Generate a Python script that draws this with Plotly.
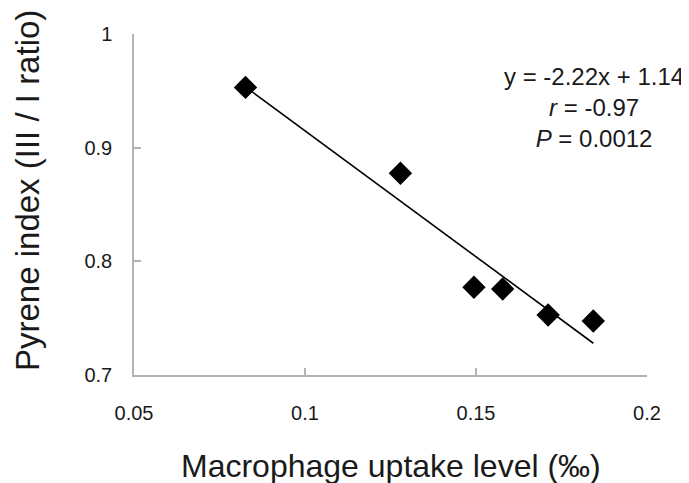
import numpy as np
import plotly.graph_objects as go

# Data
uptake = [0.0826, 0.1279, 0.1494, 0.1578, 0.1711, 0.1843]
pyrene_index = [0.953, 0.8775, 0.7772, 0.7757, 0.7528, 0.7475]

x_ticks = [0.05, 0.1, 0.15, 0.2]
x_tick_labels = ["0.05", "0.1", "0.15", "0.2"]
y_ticks = [0.7, 0.8, 0.9, 1.0]
y_tick_labels = ["0.7", "0.8", "0.9", "1"]

eq_text = "y = -2.22x + 1.14<br><i>r</i> = -0.97<br><i>P</i> = 0.0012"

# Linear fit
slope, intercept = np.polyfit(uptake, pyrene_index, 1)
fit_x = [min(uptake), max(uptake)]
fit_y = [slope * v + intercept for v in fit_x]

FONT = "Arial, Liberation Sans, sans-serif"
AXIS_COLOR = "#b4b4b4"
TEXT_COLOR = "#1a1a1a"

fig = go.Figure()
fig.add_trace(go.Scatter(x=fit_x, y=fit_y, mode="lines",
                         line=dict(color="black", width=1.6),
                         showlegend=False, hoverinfo="skip"))
fig.add_trace(go.Scatter(x=uptake, y=pyrene_index, mode="markers",
                         marker=dict(symbol="diamond", size=18, color="black"),
                         showlegend=False))

# The page body has an 8px default margin, so the figure is sized to fit.
fig.update_layout(
    width=681, height=475,
    margin=dict(l=126, r=42, t=26, b=108),
    paper_bgcolor="white", plot_bgcolor="white",
    font=dict(family=FONT, color=TEXT_COLOR),
    xaxis=dict(range=[0.05, 0.2], tickvals=x_ticks, ticktext=x_tick_labels,
               showgrid=False, zeroline=False, showline=True,
               linecolor=AXIS_COLOR, linewidth=1.5,
               ticks="inside", ticklen=7, tickcolor=AXIS_COLOR, tickwidth=1.5,
               tickfont=dict(size=20, family=FONT, color=TEXT_COLOR),
               ticklabelstandoff=19),
    yaxis=dict(range=[0.7, 1.0], tickvals=y_ticks, ticktext=y_tick_labels,
               showgrid=False, zeroline=False, showline=True,
               linecolor=AXIS_COLOR, linewidth=1.5,
               ticks="inside", ticklen=7, tickcolor=AXIS_COLOR, tickwidth=1.5,
               tickfont=dict(size=20, family=FONT, color=TEXT_COLOR),
               ticklabelstandoff=16),
    annotations=[
        dict(text=eq_text, xref="paper", yref="paper", x=0.8967, y=0.783,
             xanchor="center", yanchor="middle", align="center",
             showarrow=False, font=dict(size=24, family=FONT, color=TEXT_COLOR)),
        dict(text="Macrophage uptake level (‰)", xref="paper", yref="paper",
             x=0.5, y=-0.267, xanchor="center", yanchor="middle",
             showarrow=False, font=dict(size=32, family=FONT, color=TEXT_COLOR)),
        dict(text="Pyrene index (III / I ratio)", xref="paper", yref="paper",
             x=-0.2086, y=0.5425, xanchor="center", yanchor="middle",
             textangle=-90,
             showarrow=False, font=dict(size=33, family=FONT, color=TEXT_COLOR)),
    ],
)

fig.write_html("out.html")
